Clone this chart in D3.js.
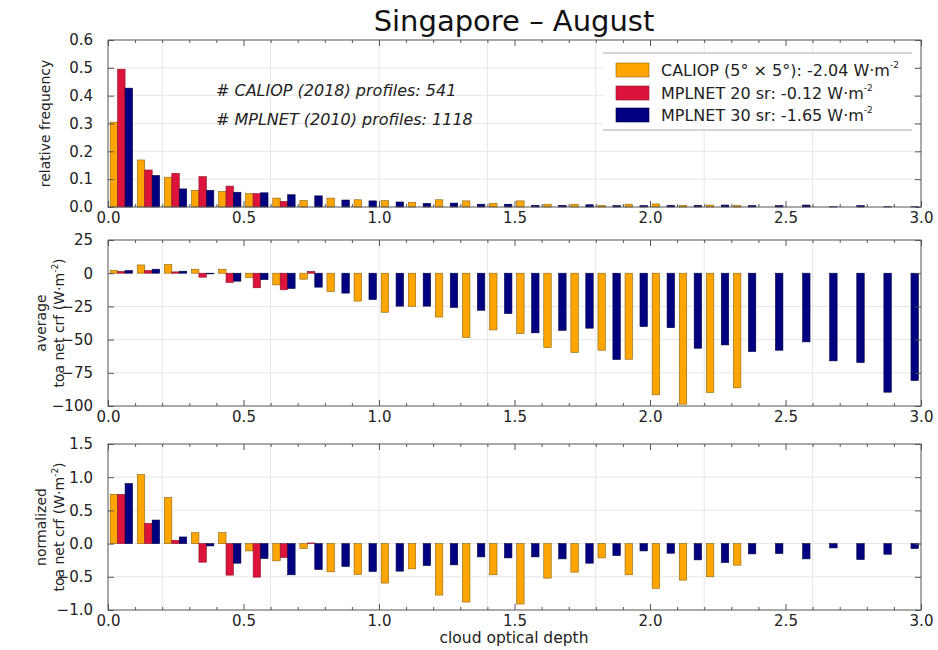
<!DOCTYPE html>
<html><head><meta charset="utf-8">
<script src="https://cdn.jsdelivr.net/npm/d3@7"></script>
<style>body{margin:0;background:#fff}svg{font-family:"DejaVu Sans",sans-serif}</style>
</head><body><svg id="c" width="938" height="650"></svg>
<script>
// ---------- data ----------
const binStarts = [0.0,0.1,0.2,0.3,0.4,0.5,0.6,0.7,0.8,0.9,1.0,1.1,1.2,1.3,1.4,1.5,1.6,1.7,1.8,1.9,2.0,2.1,2.2,2.3,2.4,2.5,2.6,2.7,2.8,2.9];
const seriesLabels = ["CALIOP (5° × 5°): -2.04 W·m", "MPLNET 20 sr: -0.12 W·m", "MPLNET 30 sr: -1.65 W·m"];
const seriesColors = ["#FFA500", "#DC143C", "#000080"];
const seriesStrokes = ["#8a6410", "#8a1028", "#000040"];

const freqCaliop = [0.305,0.169,0.107,0.060,0.056,0.048,0.032,0.023,0.032,0.026,0.023,0.017,0.026,0.022,0.013,0.022,0.010,0.010,0.006,0.010,0.011,0.006,0.007,0.005,0,0,0,0,0,0];
const freqMpl20  = [0.495,0.133,0.121,0.109,0.075,0.048,0.020,null,null,null,null,null,null,null,null,null,null,null,null,null,null,null,null,null,null,null,null,null,null,null];
const freqMpl30  = [0.427,0.113,0.065,0.060,0.053,0.051,0.044,0.040,0.025,0.022,0.018,0.013,0.014,0.010,0.010,0.006,0.006,0.008,0.005,0.005,0.006,0.006,0.007,0.005,0.005,0.007,0.001,0.005,0.001,0.001];

const crfCaliop = [2,6.2,6.5,3,3,-3.2,-8.8,-4.5,-13.8,-21,-29.4,-25,-33,-48.4,-42.7,-45.4,-56,-59.7,-58,-64.8,-91.6,-98.6,-89.9,-86.3,0,0,0,0,0,0];
const crfMpl20  = [1.3,2,1,-3,-7,-11,-12.5,1.3,null,null,null,null,null,null,null,null,null,null,null,null,null,null,null,null,null,null,null,null,null,null];
const crfMpl30  = [2,3,1.5,-0.5,-6,-4.8,-11.5,-10.5,-15,-19.8,-24.8,-24.8,-25.8,-27.9,-30.4,-44.9,-43,-41.4,-65,-40.2,-41,-56.5,-54,-59,-58,-51.7,-66,-67.3,-89.6,-80.8];

const normCaliop = [0.74,1.04,0.695,0.165,0.165,-0.11,-0.26,-0.075,-0.425,-0.465,-0.595,-0.38,-0.775,-0.88,-0.47,-0.91,-0.52,-0.43,-0.215,-0.47,-0.675,-0.55,-0.5,-0.325,null,null,null,null,null,null];
const normMpl20  = [0.74,0.305,0.05,-0.28,-0.475,-0.505,-0.21,0.01,null,null,null,null,null,null,null,null,null,null,null,null,null,null,null,null,null,null,null,null,null,null];
const normMpl30  = [0.905,0.355,0.10,-0.035,-0.295,-0.225,-0.47,-0.39,-0.345,-0.42,-0.415,-0.33,-0.32,-0.2,-0.215,-0.2,-0.23,-0.295,-0.18,-0.11,-0.145,-0.245,-0.285,-0.155,-0.15,-0.23,-0.065,-0.24,-0.16,-0.075];

const xTicks = [0.0,0.5,1.0,1.5,2.0,2.5,3.0];
const xMinorTicks = [0.1,0.2,0.3,0.4,0.6,0.7,0.8,0.9,1.1,1.2,1.3,1.4,1.6,1.7,1.8,1.9,2.1,2.2,2.3,2.4,2.6,2.7,2.8,2.9];
const xGrid = [0.2,0.6,1.0,1.4,1.8,2.2,2.6];
const freqTicks = [0.0,0.1,0.2,0.3,0.4,0.5,0.6];
const crfTicks = [-100,-75,-50,-25,0,25];
const normTicks = [-1.0,-0.5,0.0,0.5,1.0,1.5];

const titleText = "Singapore \u2013 August";
const annotations = ["# CALIOP (2018) profiles: 541", "# MPLNET (2010) profiles: 1118"];
const xLabel = "cloud optical depth";

// ---------- layout ----------
const svg = d3.select("#c");
const X0 = 108, X1 = 921;
const x = d3.scaleLinear().domain([0, 3]).range([X0, X1]);
const barOff = 0.008, barW = 0.0275;

const panels = [
  {top: 40, bottom: 207, domain: [0, 0.6], ticks: freqTicks, fmt: d3.format(".1f"),
   series: [freqCaliop, freqMpl20, freqMpl30], ylab: ["relative frequency"], gridZero: false},
  {top: 240, bottom: 406, domain: [-100, 25], ticks: crfTicks, fmt: d3.format("d"),
   series: [crfCaliop, crfMpl20, crfMpl30], ylab: ["average", "toa net crf (W·m"], gridZero: false},
  {top: 444, bottom: 610, domain: [-1, 1.5], ticks: normTicks, fmt: d3.format(".1f"),
   series: [normCaliop, normMpl20, normMpl30], ylab: ["normalized", "toa net crf (W·m"], gridZero: true}
];

panels.forEach((p, pi) => {
  const y = d3.scaleLinear().domain(p.domain).range([p.bottom, p.top]);
  const g = svg.append("g");
  // grid
  g.append("g").selectAll("line").data(xGrid).join("line")
    .attr("x1", d => x(d)).attr("x2", d => x(d)).attr("y1", p.top).attr("y2", p.bottom)
    .attr("stroke", "#e6e6e6").attr("stroke-width", 1);
  g.append("g").selectAll("line").data(p.ticks.filter(t => t !== p.domain[0] && t !== p.domain[1] && (t !== 0 || p.gridZero)))
    .join("line")
    .attr("x1", X0).attr("x2", X1).attr("y1", d => y(d)).attr("y2", d => y(d))
    .attr("stroke", "#e6e6e6").attr("stroke-width", 1);

  // bars
  p.series.forEach((vals, k) => {
    const data = vals.map((v, i) => ({v, i})).filter(d => d.v !== null);
    g.append("g").selectAll("rect").data(data).join("rect")
      .attr("x", d => x(binStarts[d.i] + barOff + k * barW))
      .attr("width", x(barW) - x(0))
      .attr("y", d => y(Math.max(d.v, 0)))
      .attr("height", d => Math.abs(y(d.v) - y(0)))
      .attr("fill", seriesColors[k])
      .attr("stroke", d => d.v === 0 ? "#c4c4c4" : seriesStrokes[k])
      .attr("stroke-width", d => d.v === 0 ? 1.5 : 0.6);
  });

  // frame
  g.append("rect").attr("x", X0).attr("y", p.top).attr("width", X1 - X0).attr("height", p.bottom - p.top)
    .attr("fill", "none").attr("stroke", "#555").attr("stroke-width", 1);

  // x axes (bottom with labels, top without)
  g.append("g").attr("transform", `translate(0,${p.bottom})`)
    .call(d3.axisBottom(x).tickValues(xTicks).tickSize(-6).tickPadding(5).tickFormat(d3.format(".1f")));
  g.append("g").attr("transform", `translate(0,${p.bottom})`)
    .call(d3.axisBottom(x).tickValues(xMinorTicks).tickSize(-3).tickFormat(""));
  g.append("g").attr("transform", `translate(0,${p.top})`)
    .call(d3.axisTop(x).tickValues(xTicks).tickSize(-6).tickFormat(""));
  g.append("g").attr("transform", `translate(0,${p.top})`)
    .call(d3.axisTop(x).tickValues(xMinorTicks).tickSize(-3).tickFormat(""));
  // y axes
  g.append("g").attr("transform", `translate(${X0},0)`)
    .call(d3.axisLeft(y).tickValues(p.ticks).tickSize(-6).tickPadding(15).tickFormat(p.fmt));
  g.append("g").attr("transform", `translate(${X1},0)`)
    .call(d3.axisRight(y).tickValues(p.ticks).tickSize(-6).tickFormat(""));

  g.selectAll(".domain").remove();
  g.selectAll(".tick line").attr("stroke", "#555");
  g.selectAll(".tick text").attr("font-size", 15).attr("fill", "#222").attr("font-family", "DejaVu Sans");

  // y label
  const cy = (p.top + p.bottom) / 2;
  const nl = p.ylab.length;
  p.ylab.forEach((t, li) => {
    const lx = nl === 1 ? 50 : (li === 0 ? 46 : 64);
    const txt = g.append("text")
      .attr("transform", `translate(${lx},${cy}) rotate(-90)`)
      .attr("text-anchor", "middle").attr("font-size", 14).attr("fill", "#222");
    if (t.endsWith("W·m")) {
      txt.append("tspan").text(t);
      txt.append("tspan").attr("font-size", 9).attr("dy", -6).text("-2");
      txt.append("tspan").attr("dy", 6).text(")");
    } else {
      txt.text(t);
    }
  });
});

// title
svg.append("text").attr("x", 514).attr("y", 31).attr("text-anchor", "middle")
  .attr("font-size", 29).attr("fill", "#111").text(titleText);

// annotations
annotations.forEach((t, i) => {
  svg.append("text").attr("x", 216).attr("y", 96 + i * 29).attr("font-size", 16)
    .attr("font-style", "italic").attr("fill", "#222").text(t);
});

// x label
svg.append("text").attr("x", 514).attr("y", 643).attr("text-anchor", "middle")
  .attr("font-size", 15.5).attr("fill", "#222").text(xLabel);

// legend
const lg = svg.append("g");
lg.append("rect").attr("x", 603).attr("y", 53).attr("width", 309).attr("height", 77)
  .attr("fill", "#fff").attr("fill-opacity", 0.85).attr("stroke", "none");
[53, 130].forEach(yy => lg.append("line").attr("x1", 603).attr("x2", 912).attr("y1", yy).attr("y2", yy)
  .attr("stroke", "#aaa").attr("stroke-width", 1));
const legY = [70, 93, 115];
seriesLabels.forEach((t, k) => {
  lg.append("rect").attr("x", 616).attr("y", legY[k] - 7).attr("width", 33).attr("height", 14)
    .attr("fill", seriesColors[k]).attr("stroke", seriesStrokes[k]).attr("stroke-width", 0.6);
  const tx = lg.append("text").attr("x", 661).attr("y", legY[k] + 6).attr("font-size", 16).attr("fill", "#222");
  tx.append("tspan").text(t);
  tx.append("tspan").attr("font-size", 9).attr("dy", -8).text("-2");
});
</script></body></html>
